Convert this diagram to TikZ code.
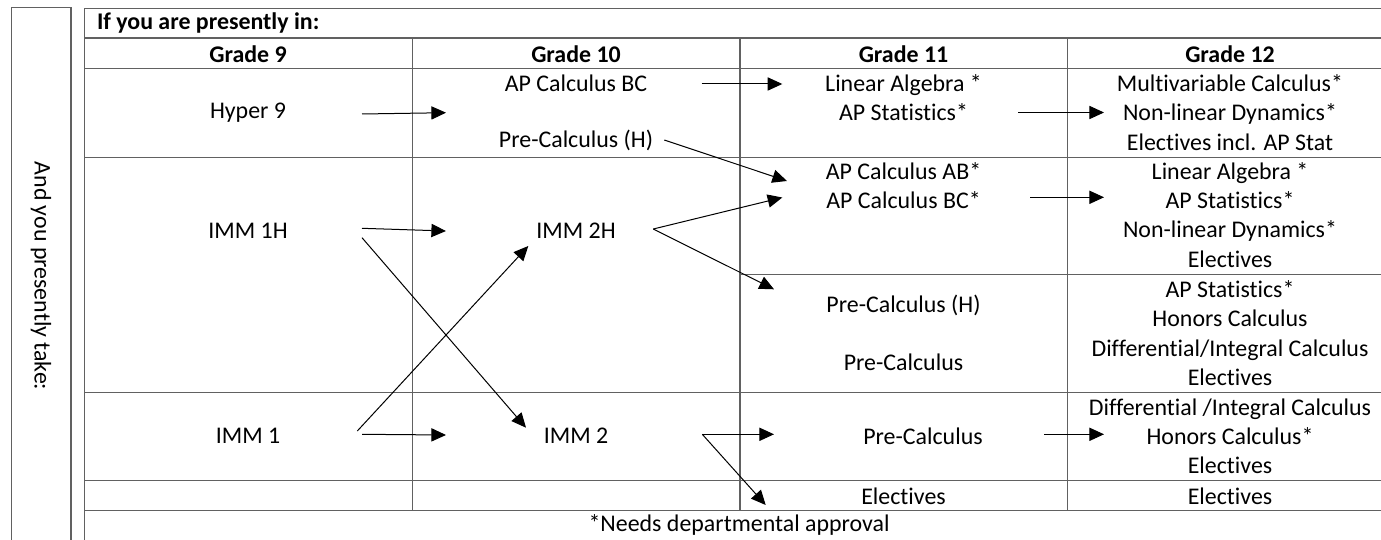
\documentclass[tikz,border=0pt]{standalone}
\usepackage{fontspec}
\setmainfont{Carlito}[Ligatures=NoCommon]
\usetikzlibrary{arrows.meta}
\tikzset{tx/.style = {inner sep=0pt, align=center, font=\fontsize{11.95}{14.6}\selectfont},
           hd/.style = {tx, font=\fontsize{11.95}{14.6}\selectfont\bfseries},
           ln/.style = {draw=black!62, line width=0.6pt}}

\begin{document}
\begin{tikzpicture}[x=0.5pt, y=-0.5pt, line width=0.5pt, >={Triangle[length=7.3pt, width=6.6pt]}]
    \useasboundingbox (0,0) rectangle (1381,540);
    \clip (0,0) rectangle (1381,540);
    \draw[ln] (11.7,560) -- (11.7,7.7) -- (71,7.7) -- (71,560);
    \draw[ln] (84.5,560) -- (84.5,8.3) -- (1393,8.3) -- (1393,560);
    \foreach \y in {38,68.3,157.3,392.3,480.7,510.7} \draw[ln] (84.5,\y) -- (1393,\y);
    \foreach \x in {412.3,740,1067.3} \draw[ln] (\x,38) -- (\x,510.7);
    \draw[ln] (740,274.3) -- (1393,274.3);
    \node[hd, anchor=west] (ifin) at (96.5,23) {If you are presently in:};
    \node[hd] (g9) at (248,54) {Grade 9};  \node[hd] (g10) at (576,54) {Grade 10};
    \node[hd] (g11) at (903.5,54) {Grade 11};  \node[hd] (g12) at (1230,54) {Grade 12};
    \node[tx, rotate=-90] (take) at (41,276) {And you presently take:};
    \node[tx] (hyp) at (248,113) {Hyper 9};
    \node[tx] (bc10) at (576,83) {AP Calculus BC};
    \node[tx] (pch10) at (576,140) {Pre-Calculus (H)};
    \node[tx] (la11) at (903.5,98) {Linear Algebra *\\AP Statistics*};
    \node[tx] (mv12) at (1230,112.5) {Multivariable Calculus*\\Non-linear Dynamics*\\Electives incl. AP Stat};
    \node[tx] (imm1h) at (248,231) {IMM 1H};
    \node[tx] (imm2h) at (576,231) {IMM 2H};
    \node[tx] (ab11) at (903.5,186) {AP Calculus AB*\\AP Calculus BC*};
    \node[tx] (la12) at (1230,215) {Linear Algebra *\\AP Statistics*\\Non-linear Dynamics*\\Electives};
    \node[tx] (pch11) at (903.5,305) {Pre-Calculus (H)};
    \node[tx] (pc11) at (903.5,362) {Pre-Calculus};
    \node[tx] (aps12) at (1230,333) {AP Statistics*\\Honors Calculus\\Differential/Integral Calculus\\Electives};
    \node[tx] (imm1) at (248,436) {IMM 1};
    \node[tx] (imm2) at (576,436) {IMM 2};
    \node[tx] (pc11b) at (923,436) {Pre-Calculus};
    \node[tx] (di12) at (1230,436) {Differential /Integral Calculus\\Honors Calculus*\\Electives};
    \node[tx] (el11) at (903.5,496) {Electives};  \node[tx] (el12) at (1230,496) {Electives};
    \node[tx] (note) at (739,525) {*Needs departmental approval};
    \coordinate (p1) at (362,114);     \coordinate (q1) at (446,112.7);
    \coordinate (p2) at (701.7,84);    \coordinate (q2) at (782.3,84);
    \coordinate (p3) at (664.3,140);   \coordinate (q3) at (787,181);
    \coordinate (p4) at (1018.3,112.5); \coordinate (q4) at (1104,112.5);
    \coordinate (p5) at (362,228.3);   \coordinate (q5) at (446,231);
    \coordinate (p6) at (362,237.7);   \coordinate (q6) at (526,427.7);
    \coordinate (p7) at (357.3,431);   \coordinate (q7) at (528.3,246);
    \coordinate (p8) at (362,434.3);   \coordinate (q8) at (446,435);
    \coordinate (p9) at (653.3,229);   \coordinate (q9) at (782.3,197.5); \coordinate (q10) at (774,289.3);
    \coordinate (p11) at (1030,197.3); \coordinate (q11) at (1104,197.3);
    \coordinate (p12) at (702.3,434.3); \coordinate (q12) at (774,434.3); \coordinate (q13) at (765.7,505);
    \coordinate (p14) at (1044,434.3); \coordinate (q14) at (1104,434.3);
    \draw[->] (p1) -- (q1);
    \draw[->] (p2) -- (q2);
    \draw[->] (p3) -- (q3);
    \draw[->] (p4) -- (q4);
    \draw[->] (p5) -- (q5);
    \draw[->] (p6) -- (q6);
    \draw[->] (p7) -- (q7);
    \draw[->] (p8) -- (q8);
    \draw[->] (p9) -- (q9);
    \draw[->] (p9) -- (q10);
    \draw[->] (p11) -- (q11);
    \draw[->] (p12) -- (q12);
    \draw[->] (p12) -- (q13);
    \draw[->] (p14) -- (q14);
  \end{tikzpicture}
\end{document}
